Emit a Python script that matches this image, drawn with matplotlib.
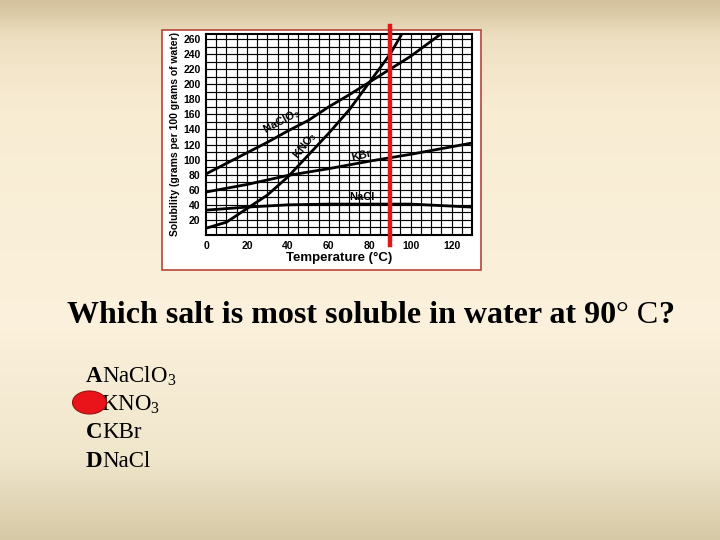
import numpy as np
import matplotlib
matplotlib.use("Agg")
from matplotlib import pyplot as plt
from matplotlib.patches import Rectangle, Ellipse
from matplotlib.colors import LinearSegmentedColormap

plt.rcParams["mathtext.fontset"] = "custom"
plt.rcParams["mathtext.rm"] = "Liberation Serif"
plt.rcParams["mathtext.bf"] = "Liberation Sans:bold"

# solubility curves (g per 100 g water)
nacl_t = [0, 20, 40, 60, 80, 100, 130]
nacl = [33, 37, 40, 41, 41, 41, 37]

kbr_t = [0, 20, 40, 60, 80, 100, 130]
kbr = [57, 67, 79, 88, 98, 107, 122]

naclo3_t = [0, 10, 20, 30, 40, 50, 60, 70, 80, 90, 100, 114]
naclo3 = [81, 95, 109, 123, 138, 152, 170, 186, 203, 220, 237, 265]

kno3_t = [0, 10, 20, 30, 40, 50, 60, 70, 80, 90, 96]
kno3 = [9, 17, 35, 53, 77, 106, 135, 166, 203, 240, 268]

x_ticks = [0, 20, 40, 60, 80, 100, 120]
y_ticks = [20, 40, 60, 80, 100, 120, 140, 160, 180, 200, 220, 240, 260]
marked_temp = 90

question = "Which salt is most soluble in water at 90"
choices = ["A", "B", "C", "D"]
answers = [r"NaClO$_\mathregular{3}$", r"KNO$_\mathregular{3}$", "KBr", "NaCl"]

W, H = 720, 540
def fx(x):
    return x / W
def fy(y):
    return 1 - y / H

fig = plt.figure(figsize=(7.2, 5.4), dpi=100)

# slide background gradient
bg = fig.add_axes([0, 0, 1, 1])
cmap = LinearSegmentedColormap.from_list(
    "slide", [(0, "#d2c19b"), (0.07, "#eee0c2"), (0.2, "#f8ecd3"),
              (0.6, "#fbf1dc"), (0.85, "#f0e6cc"), (1, "#d6c9a6")])
grad = np.linspace(0, 1, 256).reshape(-1, 1)
bg.imshow(grad, aspect="auto", cmap=cmap, extent=[0, 1, 0, 1], origin="upper")
bg.set_xlim(0, 1)
bg.set_ylim(0, 1)
bg.axis("off")

# picture frame
bg.add_patch(Rectangle((fx(162), fy(270)), (481 - 162) / W, (270 - 30) / H,
                       facecolor="white", edgecolor="#b8443a", lw=1.2))

ax = fig.add_axes([fx(206), fy(235), (472 - 206) / W, (235 - 34) / H])
ax.set_xlim(0, 130)
ax.set_ylim(0, 266.6)
for v in np.arange(5, 130, 5):
    ax.axvline(v, color="black", lw=0.85, zorder=1)
for h in np.arange(10, 266, 10):
    ax.axhline(h, color="black", lw=0.85, zorder=1)

for t, s in [(nacl_t, nacl), (kbr_t, kbr), (naclo3_t, naclo3), (kno3_t, kno3)]:
    ax.plot(t, s, color="black", lw=2.0, zorder=3)

lab = dict(color="black", fontsize=8, fontweight="bold", family="Liberation Sans",
           ha="center", va="center", zorder=4)
ax.text(37, 150, r"NaClO$_\mathbf{3}$", rotation=28, **lab)
ax.text(48.5, 119, r"KNO$_\mathbf{3}$", rotation=52, **lab)
ax.text(76, 105, "KBr", rotation=14, **lab)
ax.text(76, 50, "NaCl", **lab)

ax.set_xticks(x_ticks)
ax.set_yticks(y_ticks)
ax.tick_params(length=0, labelsize=7.5, pad=4)
for lbl in ax.get_xticklabels() + ax.get_yticklabels():
    lbl.set_fontweight("bold")
    lbl.set_family("Liberation Sans")
for sp in ax.spines.values():
    sp.set_linewidth(1.5)
ax.set_xlabel("Temperature (°C)", fontsize=9.5, fontweight="bold",
              family="Liberation Sans", labelpad=1)
ax.set_ylabel("Solubility (grams per 100 grams of water)", fontsize=7.5,
              fontweight="bold", family="Liberation Sans", labelpad=2)

ax.plot([marked_temp, marked_temp], [-13, 277], color="#e3161c", lw=3.2,
        clip_on=False, zorder=5)

# question
t1 = fig.text(fx(67), fy(323), question, family="Liberation Serif",
              fontweight="bold", fontsize=23, va="baseline")
fig.canvas.draw()
bb = t1.get_window_extent()
t2 = fig.text(bb.x1 / W, fy(323), "° C", family="Liberation Serif",
              fontsize=23, va="baseline")
fig.canvas.draw()
bb2 = t2.get_window_extent()
fig.text(bb2.x1 / W, fy(323), "?", family="Liberation Serif",
         fontweight="bold", fontsize=23, va="baseline")

baselines = [382, 410, 438, 467]
for letter, ans, yb in zip(choices, answers, baselines):
    tl = fig.text(fx(86), fy(yb), letter, family="Liberation Serif",
                  fontweight="bold", fontsize=16.5, va="baseline")
    fig.canvas.draw()
    b = tl.get_window_extent()
    fig.text((b.x1 - 0.5) / W, fy(yb), ans, family="Liberation Serif",
             fontsize=16.5, va="baseline")

fig.add_artist(Ellipse((fx(89.5), fy(402.5)), 34 / W, 23 / H, facecolor="#e8141a",
                       edgecolor="#9a1010", lw=0.8, zorder=10,
                       transform=fig.transFigure))

fig.savefig("out.png", dpi=100)
